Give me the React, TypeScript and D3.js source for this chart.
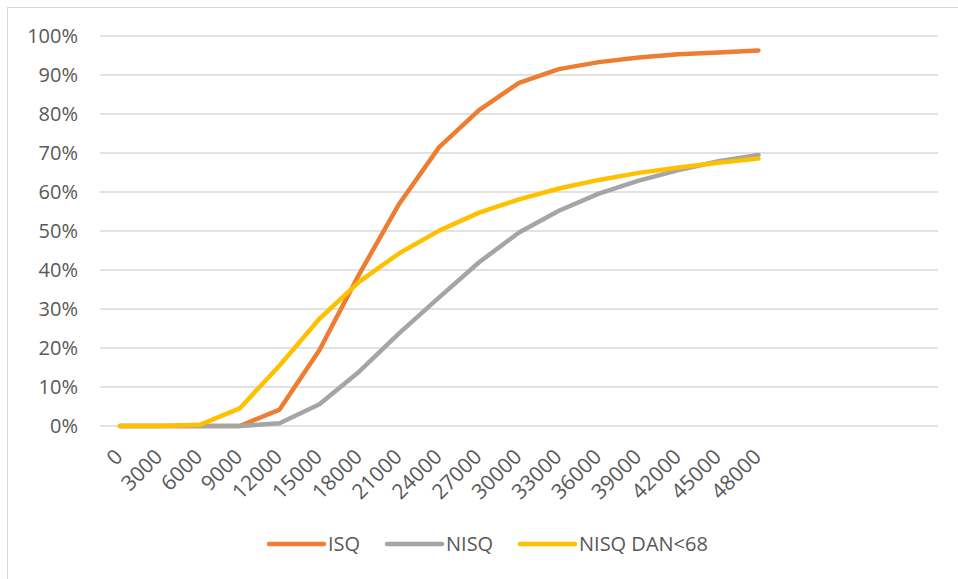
import React, { useEffect, useRef } from "react";
import * as d3 from "d3";

// category labels on the x axis (Excel leaves 4 empty slots after 48000)
const xLabels = [
  "0", "3000", "6000", "9000", "12000", "15000", "18000", "21000", "24000",
  "27000", "30000", "33000", "36000", "39000", "42000", "45000", "48000",
];
const emptySlots = 4;

// cumulative share in %
const isq = [0, 0, 0, 0, 4.2, 19.5, 39, 57, 71.5, 81, 88, 91.5, 93.3, 94.5, 95.3, 95.8, 96.3];
const nisq = [0, 0, 0, 0, 0.7, 5.6, 14, 23.8, 33, 42, 49.6, 55.2, 59.6, 62.9, 65.6, 67.9, 69.5];
const nisqDan = [0, 0, 0.3, 4.5, 15.5, 27.5, 37, 44.3, 50.1, 54.7, 58.1, 60.9, 63.1, 64.9, 66.3, 67.5, 68.6];

const yTicks = [0, 10, 20, 30, 40, 50, 60, 70, 80, 90, 100];

const seriesNames = ["ISQ", "NISQ", "NISQ DAN<68"];
const seriesColors = ["#ED7D31", "#A5A5A5", "#FFC000"];

const App = () => {
  const svgRef = useRef(null);

  useEffect(() => {
    const width = 958;
    const height = 579;
    const plot = { left: 100, right: 938, top: 36, bottom: 426 };
    const font = "'Open Sans', sans-serif";
    const textColor = "#595959";

    const svg = d3.select(svgRef.current);
    svg.selectAll("*").remove();
    svg.attr("width", width).attr("height", height);

    // chart area border
    svg
      .append("rect")
      .attr("x", 7.5)
      .attr("y", 7.5)
      .attr("width", width + 20)
      .attr("height", height + 20)
      .attr("fill", "#fff")
      .attr("stroke", "#d9d9d9")
      .attr("stroke-width", 1);

    const slots = d3.range(xLabels.length + emptySlots);
    const xScale = d3
      .scaleBand()
      .domain(slots)
      .range([plot.left, plot.right])
      .padding(0);
    const cx = (i) => xScale(i) + xScale.bandwidth() / 2;

    const yScale = d3.scaleLinear().domain([0, 100]).range([plot.bottom, plot.top]);

    // gridlines
    svg
      .append("g")
      .selectAll("line")
      .data(yTicks)
      .enter()
      .append("line")
      .attr("x1", plot.left)
      .attr("x2", plot.right)
      .attr("y1", (d) => yScale(d))
      .attr("y2", (d) => yScale(d))
      .attr("stroke", "#d9d9d9")
      .attr("stroke-width", 1.3);

    // y labels
    svg
      .append("g")
      .selectAll("text")
      .data(yTicks)
      .enter()
      .append("text")
      .attr("x", 78)
      .attr("y", (d) => yScale(d))
      .attr("dy", "0.36em")
      .attr("text-anchor", "end")
      .style("font-family", font)
      .style("font-size", "20px")
      .style("fill", textColor)
      .text((d) => `${d}%`);

    // x labels, rotated
    svg
      .append("g")
      .selectAll("text")
      .data(xLabels)
      .enter()
      .append("text")
      .attr("transform", (d, i) => `translate(${cx(i) + 4},458) rotate(-45)`)
      .attr("text-anchor", "end")
      .style("font-family", font)
      .style("font-size", "21px")
      .style("fill", textColor)
      .text((d) => d);

    // lines
    const line = d3
      .line()
      .x((d, i) => cx(i))
      .y((d) => yScale(d));

    [isq, nisq, nisqDan].forEach((values, k) => {
      svg
        .append("path")
        .datum(values)
        .attr("d", line)
        .attr("fill", "none")
        .attr("stroke", seriesColors[k])
        .attr("stroke-width", 4.5)
        .attr("stroke-linejoin", "round")
        .attr("stroke-linecap", "round");
    });

    // legend
    const legendX = [269, 387, 520];
    const legend = svg
      .append("g")
      .selectAll("g")
      .data(seriesNames)
      .enter()
      .append("g")
      .attr("transform", (d, i) => `translate(${legendX[i]},544)`);

    legend
      .append("line")
      .attr("x1", 0)
      .attr("x2", 55)
      .attr("stroke", (d, i) => seriesColors[i])
      .attr("stroke-width", 4.5)
      .attr("stroke-linecap", "round");

    legend
      .append("text")
      .attr("x", 59)
      .attr("dy", "0.36em")
      .style("font-family", font)
      .style("font-size", "20px")
      .style("fill", textColor)
      .text((d) => d);
  }, []);

  return (
    <svg
      ref={svgRef}
      style={{ position: "absolute", left: 0, top: 0, display: "block" }}
    ></svg>
  );
};

export default App;
